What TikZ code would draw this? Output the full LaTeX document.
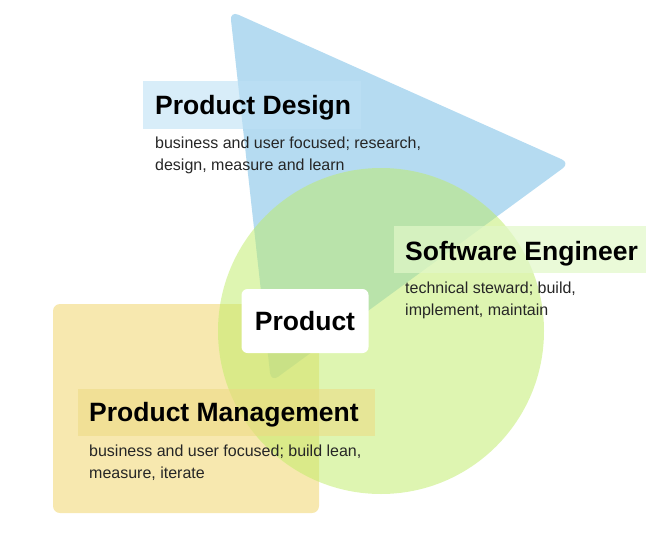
\documentclass[tikz,border=0pt]{standalone}
\usepackage{fontspec}
\setmainfont{Liberation Sans}
\definecolor{triblue}{RGB}{120,190,230}
\definecolor{lime}{RGB}{190,236,100}
\definecolor{sand}{RGB}{240,214,110}
\definecolor{pdlab}{RGB}{190,225,245}
\definecolor{selab}{RGB}{225,248,200}
\definecolor{pmlab}{RGB}{238,218,130}
\tikzset{
  title/.style={anchor=base west, inner sep=0pt, font=\fontsize{26.5}{30}\selectfont\bfseries, text=black},
  body/.style={anchor=base west, inner sep=0pt, font=\fontsize{16}{22}\selectfont, text=black!85, align=left},
}
\begin{document}
\begin{tikzpicture}[x=1pt,y=-1pt]
\useasboundingbox (0,0) rectangle (667,533);
% shapes
\fill[triblue, opacity=0.55, rounded corners=9pt] (230,11) -- (570,163) -- (271,382) -- cycle;
\fill[sand, opacity=0.55, rounded corners=7pt] (53,304) rectangle (319,513);
\fill[lime, opacity=0.5] (381,331) circle (163);
% label boxes
\fill[pdlab, opacity=0.6] (143,81) rectangle (361,129);
\fill[selab, opacity=0.7] (394,226) rectangle (646,273);
\fill[pmlab, opacity=0.55] (78,389) rectangle (375,436);
% product box
\node[fill=white, rounded corners=6pt, minimum width=127pt, minimum height=64pt, inner sep=0pt, font=\fontsize{26.5}{30}\selectfont\bfseries] (prod) at (305,321) {Product};
% texts
\node[title] (pdt) at (155,114) {Product Design};
\node[body] (pdb1) at (155,148) {business and user focused; research,};
\node[body] (pdb2) at (155,170) {design, measure and learn};
\node[title] (set) at (405,260) {Software Engineer};
\node[body] (seb1) at (405,293) {technical steward; build,};
\node[body] (seb2) at (405,315) {implement, maintain};
\node[title] (pmt) at (89,421) {Product Management};
\node[body] (pmb1) at (89,456) {business and user focused; build lean,};
\node[body] (pmb2) at (89,478) {measure, iterate};
\end{tikzpicture}
\end{document}
